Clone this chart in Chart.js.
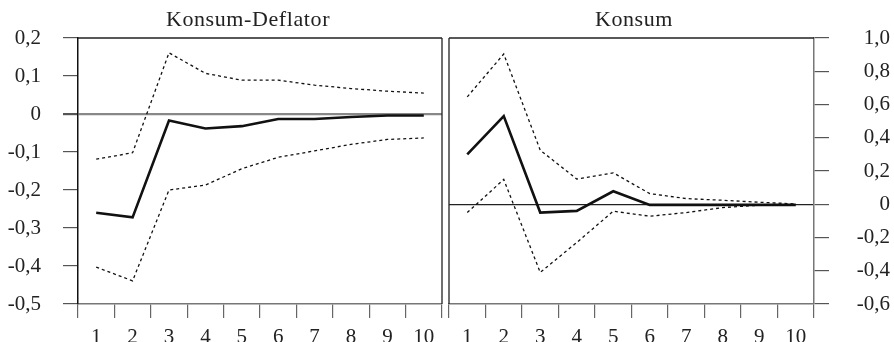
<!DOCTYPE html>
<html>
<head>
<meta charset="utf-8">
<script src="https://cdn.jsdelivr.net/npm/chart.js@4.4.0/dist/chart.umd.min.js"></script>
<style>
  body { margin: 0; background: #fff; }
  #wrap { position: relative; width: 894px; height: 342px; overflow: hidden; }
  .box { position: absolute; top: 0; height: 342px; }
  .title {
    position: absolute; top: 8px; font-family: "Liberation Serif", serif;
    font-size: 22px; line-height: 22px; color: #222; white-space: nowrap;
    transform: translateX(-50%); letter-spacing: 0.6px;
  }
</style>
</head>
<body>
<div id="wrap">
  <div class="box" style="left:0;width:446px"><canvas id="left" width="446" height="342"></canvas></div>
  <div class="box" style="left:446px;width:448px"><canvas id="right" width="448" height="342"></canvas></div>
  <div class="title" style="left:248px">Konsum-Deflator</div>
  <div class="title" style="left:634px">Konsum</div>
</div>
<script>
let periods = ["1", "2", "3", "4", "5", "6", "7", "8", "9", "10"];

// Konsum-Deflator
let deflatorResp = [-0.26, -0.272, -0.017, -0.038, -0.032, -0.013, -0.013, -0.008, -0.004, -0.004];
let deflatorUpper = [-0.119, -0.102, 0.161, 0.107, 0.089, 0.089, 0.076, 0.067, 0.06, 0.055];
let deflatorLower = [-0.403, -0.439, -0.2, -0.187, -0.144, -0.114, -0.097, -0.08, -0.067, -0.063];

// Konsum
let konsumResp = [0.3, 0.53, -0.05, -0.04, 0.078, -0.004, -0.004, -0.004, -0.004, -0.004];
let konsumUpper = [0.646, 0.904, 0.325, 0.152, 0.189, 0.064, 0.034, 0.024, 0.012, 0.002];
let konsumLower = [-0.05, 0.149, -0.41, -0.23, -0.042, -0.072, -0.05, -0.02, -0.006, -0.002];

let font = { family: "'Liberation Serif', serif", size: 21 };

function fmt(v) {
  if (Math.abs(v) < 1e-9) return "0";
  return v.toFixed(1).replace(".", ",");
}

// draws the remaining sides of the panel frame
let framePlugin = {
  id: "frame",
  afterDraw(chart, args, opts) {
    let a = chart.chartArea;
    let ctx = chart.ctx;
    ctx.save();
    ctx.strokeStyle = "#222";
    ctx.lineWidth = 1.3;
    ctx.beginPath();
    ctx.moveTo(a.left, a.top);
    ctx.lineTo(a.right, a.top);
    if (opts.side === "right") {
      ctx.moveTo(a.right, a.top);
      ctx.lineTo(a.right, a.bottom);
    } else {
      ctx.moveTo(a.left, a.top);
      ctx.lineTo(a.left, a.bottom);
    }
    ctx.stroke();
    ctx.restore();
  },
};

function makeDatasets(resp, upper, lower) {
  let dotted = { borderColor: "#111", borderWidth: 1.3, borderDash: [3, 3], pointRadius: 0, tension: 0, fill: false };
  return [
    Object.assign({ data: upper }, dotted),
    Object.assign({ data: lower }, dotted),
    { data: resp, borderColor: "#111", borderWidth: 2.6, pointRadius: 0, tension: 0, fill: false },
  ];
}

function makeConfig(opts) {
  return {
    type: "line",
    data: {
      labels: periods,
      datasets: makeDatasets(opts.resp, opts.upper, opts.lower),
    },
    options: {
      responsive: false,
      animation: false,
      layout: { padding: opts.padding },
      plugins: {
        legend: { display: false },
        tooltip: { enabled: false },
        frame: { side: opts.frameSide },
      },
      scales: {
        x: {
          type: "category",
          offset: true,
          grid: { offset: true, drawOnChartArea: false, tickLength: 14, color: "#666", lineWidth: 1.2 },
          border: { color: "#777", width: 1.5 },
          ticks: { font: font, color: "#222", padding: 7, maxRotation: 0 },
          afterFit: (scale) => { scale.height = 38; },
        },
        y: {
          position: opts.yPos,
          min: opts.min,
          max: opts.max,
          ticks: {
            stepSize: opts.step,
            font: font,
            color: "#222",
            padding: opts.tickPad,
            crossAlign: opts.yPos === "right" ? "far" : "near",
            callback: (v) => fmt(v),
          },
          grid: {
            drawOnChartArea: true,
            tickLength: 15,
            tickColor: "#555",
            color: (ctx) => (ctx.tick && Math.abs(ctx.tick.value) < 1e-9 ? opts.zeroColor : "rgba(0,0,0,0)"),
            lineWidth: (ctx) => (ctx.tick && Math.abs(ctx.tick.value) < 1e-9 ? opts.zeroWidth : 1.2),
          },
          border: { color: opts.yBorder, width: 1.5 },
          afterFit: (scale) => { scale.width = opts.yWidth; },
        },
      },
    },
    plugins: [framePlugin],
  };
}

new Chart(document.getElementById("left"), makeConfig({
  resp: deflatorResp, upper: deflatorUpper, lower: deflatorLower,
  min: -0.5, max: 0.2, step: 0.1, yPos: "left", yWidth: 78, tickPad: 22,
  padding: { top: 38, left: 0, right: 4, bottom: 0 },
  zeroColor: "#888", zeroWidth: 2.2, yBorder: "#111", frameSide: "right",
}));

new Chart(document.getElementById("right"), makeConfig({
  resp: konsumResp, upper: konsumUpper, lower: konsumLower,
  min: -0.6, max: 1.0, step: 0.2, yPos: "right", yWidth: 76, tickPad: 20,
  padding: { top: 38, left: 3, right: 4, bottom: 0 },
  zeroColor: "#222", zeroWidth: 1.2, yBorder: "#777", frameSide: "left",
}));
</script>
</body>
</html>
